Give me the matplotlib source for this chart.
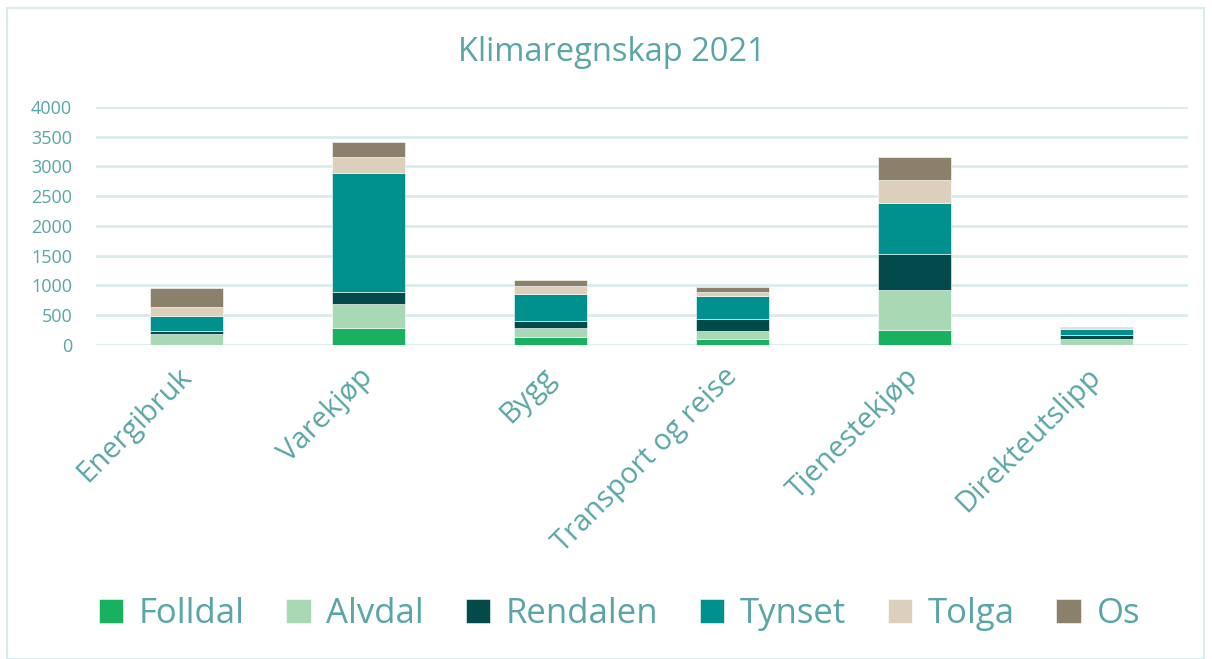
import numpy as np
import matplotlib.pyplot as plt
from matplotlib.patches import Rectangle

# Data
categories = ['Energibruk', 'Varekjøp', 'Bygg', 'Transport og reise', 'Tjenestekjøp', 'Direkteutslipp']
folldal = [0, 290, 140, 100, 257, 5]
alvdal = [180, 398, 151, 140, 660, 88]
rendalen = [60, 201, 106, 201, 615, 73]
tynset = [252, 2007, 464, 386, 850, 95]
tolga = [151, 263, 134, 62, 386, 22]
os_ = [320, 252, 95, 78, 391, 22]

series_names = ['Folldal', 'Alvdal', 'Rendalen', 'Tynset', 'Tolga', 'Os']
series_values = [folldal, alvdal, rendalen, tynset, tolga, os_]
colors = ['#17B160', '#A8D8B4', '#034B4B', '#00918E', '#DCCFBC', '#8B8069']

text_color = '#5AA5A6'
grid_color = '#DAEBEB'
font = 'Open Sans'

fig = plt.figure(figsize=(12.12, 6.59), dpi=100)
ax = fig.add_axes([0.079, 0.4765, 0.901, 0.3612])

x = np.arange(len(categories))
bottom = np.zeros(len(categories))
for name, vals, col in zip(series_names, series_values, colors):
    ax.bar(x, vals, width=0.4, bottom=bottom, color=col, label=name,
           edgecolor='white', linewidth=0.4, zorder=3)
    bottom += np.array(vals)

ax.set_xlim(-0.5, len(categories) - 0.5)
ax.set_ylim(0, 4000)
ax.set_yticks(np.arange(0, 4001, 500))
ax.yaxis.grid(True, color=grid_color, linewidth=2, zorder=0)
ax.set_axisbelow(True)
for s in ax.spines.values():
    s.set_visible(False)
ax.tick_params(axis='both', length=0, colors=text_color)
ax.tick_params(axis='y', pad=17)
for lbl in ax.get_yticklabels():
    lbl.set_fontsize(13)
    lbl.set_fontfamily(font)

ax.set_xticks(x)
ax.set_xticklabels(categories, rotation=45, ha='right', va='center',
                   rotation_mode='anchor', fontsize=21, color=text_color,
                   fontfamily=font)
ax.tick_params(axis='x', pad=20)

fig.text(0.505, 0.92, 'Klimaregnskap 2021', ha='center', va='center',
         fontsize=23.5, color=text_color, fontfamily=font)

leg = fig.legend(loc='center', bbox_to_anchor=(0.511, 0.068), ncol=6,
                 frameon=False, handlelength=0.7, handleheight=0.7,
                 handletextpad=0.45, columnspacing=1.2, prop={'family': font, 'size': 25})
for t in leg.get_texts():
    t.set_color(text_color)

# light frame around the whole chart
fig.patches.append(Rectangle((0.006, 0.0), 0.987, 0.988, transform=fig.transFigure,
                             fill=False, edgecolor=grid_color, linewidth=1.5))

fig.savefig('out.png', dpi=100)
